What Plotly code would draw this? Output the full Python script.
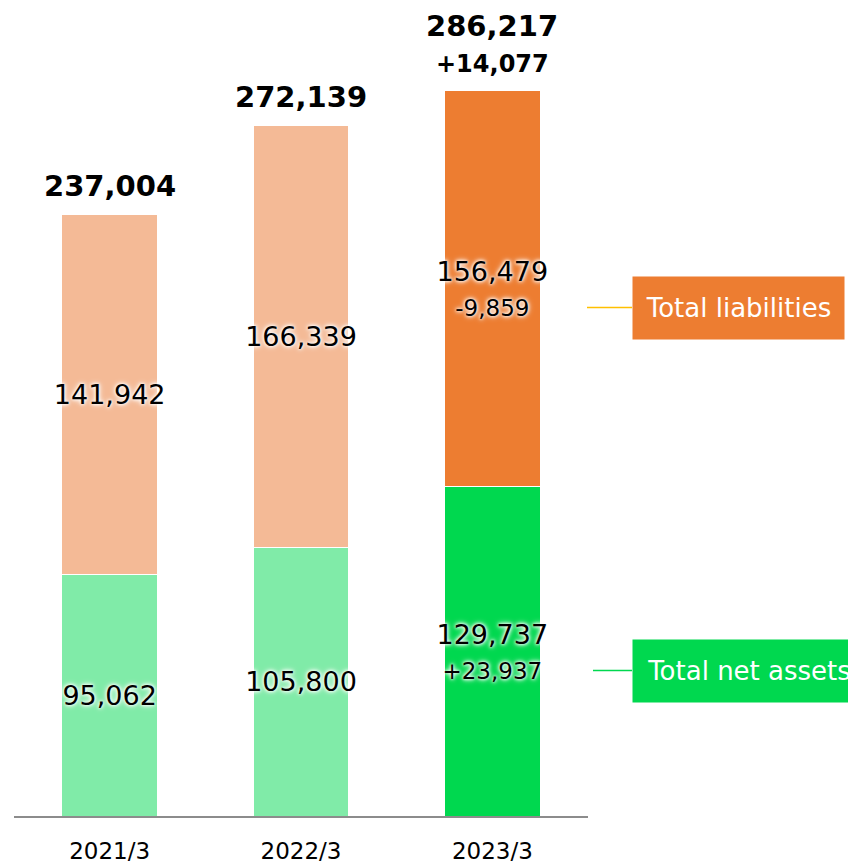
import plotly.graph_objects as go

# data
periods = ['2021/3', '2022/3', '2023/3']
net_assets = [95062, 105800, 129737]
liabilities = [141942, 166339, 156479]
totals = [237004, 272139, 286217]
net_change = [None, None, 23937]
liab_change = [None, None, -9859]
total_change = [None, None, 14077]

net_colors = ['#80EBA8', '#80EBA8', '#00D84F']
liab_colors = ['#F4BA96', '#F4BA96', '#ED7D31']


def seg_label(v, ch):
    s = f'{v:,}'
    if ch is not None:
        s += f"<br><span style='font-size:23px'>{ch:+,}</span>"
    return s


glow = '0px 0px 3px white, 0px 0px 4px white, 0px 0px 6px white'

fig = go.Figure()

fig.add_trace(go.Bar(
    x=periods, y=net_assets, name='Total net assets',
    marker=dict(color=net_colors, line=dict(color='white', width=1)),
    text=[seg_label(v, c) for v, c in zip(net_assets, net_change)],
    textposition='inside', insidetextanchor='middle', textangle=0,
    constraintext='none',
    textfont=dict(family='DejaVu Sans', size=27, color='black', shadow=glow),
    hoverinfo='skip'
))

fig.add_trace(go.Bar(
    x=periods, y=liabilities, name='Total liabilities',
    marker=dict(color=liab_colors, line=dict(color='white', width=1)),
    text=[seg_label(v, c) for v, c in zip(liabilities, liab_change)],
    textposition='inside', insidetextanchor='middle', textangle=0,
    constraintext='none',
    textfont=dict(family='DejaVu Sans', size=27, color='black', shadow=glow),
    hoverinfo='skip'
))

# totals (and year-on-year change) on top of bars
for p, t, ch in zip(periods, totals, total_change):
    shift = 10
    if ch is not None:
        fig.add_annotation(
            x=p, y=t, text=f'<b>{ch:+,}</b>', showarrow=False, yanchor='bottom',
            yshift=shift, font=dict(family='DejaVu Sans', size=24, color='black'),
        )
        shift += 35
    fig.add_annotation(
        x=p, y=t, text=f'<b>{t:,}</b>', showarrow=False, yanchor='bottom',
        yshift=shift, font=dict(family='DejaVu Sans', size=29, color='black'),
    )

# page body has an 8px margin, so the figure is laid out 8px smaller
OFF = 8
W, H = 856 - OFF, 863 - OFF
L, R, T, B = 6, 268, 0, 47
pw, ph = W - L - R, H - T - B


def px2paper(xp, yp):
    # window pixels -> paper coords
    return (xp - OFF - L) / pw, (H - B - (yp - OFF)) / ph


for name, color, line_col, y_c, x0_line, bw in [
    ('Total liabilities', '#ED7D31', '#FFC000', 307.5, 587, 211),
    ('Total net assets', '#00D84F', '#00D84F', 670.5, 593, 232),
]:
    xa, ya = px2paper(632, y_c)
    fig.add_annotation(
        xref='paper', yref='paper', x=xa, y=ya, xanchor='left', yanchor='middle',
        text=name, showarrow=False, align='center',
        font=dict(family='DejaVu Sans', size=26, color='white'),
        bgcolor=color, borderpad=0, width=bw, height=62,
    )
    lx0, ly = px2paper(x0_line, y_c)
    lx1, _ = px2paper(632, y_c)
    fig.add_shape(type='line', xref='paper', yref='paper',
                  x0=lx0, x1=lx1, y0=ly, y1=ly,
                  line=dict(color=line_col, width=1.5))

fig.update_layout(
    width=W, height=H,
    margin=dict(l=L, r=R, t=T, b=B),
    barmode='stack', bargap=0.5,
    showlegend=False,
    plot_bgcolor='white', paper_bgcolor='white',
    font=dict(family='DejaVu Sans', color='black'),
    xaxis=dict(
        showline=True, linecolor='#8C8C8C', linewidth=2,
        showgrid=False, ticks='', ticklabelstandoff=13, automargin=False,
        tickfont=dict(size=23, color='black'),
    ),
    yaxis=dict(range=[0, ph / (726 / 286217)], visible=False, showgrid=False),
)

fig.write_html('out.html')
